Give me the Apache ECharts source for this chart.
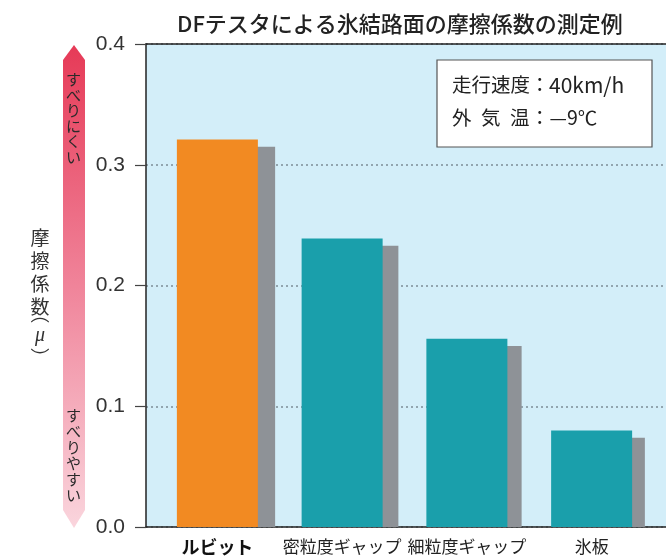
<!DOCTYPE html>
<html>
<head>
<meta charset="utf-8">
<script src="https://cdn.jsdelivr.net/npm/echarts@6/dist/echarts.min.js"></script>
<style>
html,body{margin:0;padding:0;background:#fff;}
#chart{width:666px;height:560px;}
</style>
</head>
<body>
<div id="chart"></div>
<script>
const categories = ['ルビット', '密粒度ギャップ', '細粒度ギャップ', '氷板'];
const frictionValues = [0.321, 0.239, 0.156, 0.080];
const shadowValues = [0.315, 0.233, 0.150, 0.074];
const yMin = 0, yMax = 0.4, yStep = 0.1;
const titleText = 'DFテスタによる氷結路面の摩擦係数の測定例';
const yName = ['摩', '擦', '係', '数', '︵', 'μ', '︶'];
const hardText = ['す', 'べ', 'り', 'に', 'く', 'い'];
const easyText = ['す', 'べ', 'り', 'や', 'す', 'い'];

const JP = '"Noto Sans CJK JP", "Noto Sans", sans-serif';
const chart = echarts.init(document.getElementById('chart'));

const frameLine = { show: true, onZero: false, lineStyle: { color: '#222', width: 1.5 } };

// vertical axis name, one glyph per element
const yNameY = [237.5, 261, 284, 306.5, 314, 336, 358];
const yNameGraphics = yName.map((ch, i) => ({
  type: 'text', z: 2, x: 40, y: yNameY[i],
  style: {
    text: ch,
    fontFamily: ch === 'μ' ? '"Liberation Serif", "DejaVu Serif", serif' : JP,
    fontStyle: ch === 'μ' ? 'italic' : 'normal',
    fontSize: ch === 'μ' ? 20 : 19,
    fill: '#333', align: 'center', verticalAlign: 'middle'
  }
}));

chart.setOption({
  animation: false,
  backgroundColor: '#ffffff',
  title: {
    text: titleText,
    left: 172, top: 8,
    textStyle: { fontFamily: JP, fontSize: 22, fontWeight: 500, color: '#222' }
  },
  grid: [
    { left: 146, top: 44, right: 0, bottom: 33, show: true, backgroundColor: '#d3eef9', borderWidth: 0 },
    { left: 155, top: 44, width: 499, bottom: 33 },
    { left: 173, top: 44, width: 499, bottom: 33 }
  ],
  xAxis: [
    { gridIndex: 0, type: 'value', min: 0, max: 1, position: 'bottom', axisLine: frameLine, axisTick: { show: false }, axisLabel: { show: false }, splitLine: { show: false } },
    { gridIndex: 0, type: 'value', min: 0, max: 1, position: 'top', axisLine: frameLine, axisTick: { show: false }, axisLabel: { show: false }, splitLine: { show: false } },
    { gridIndex: 1, type: 'category', data: categories, axisLine: { show: false }, axisTick: { show: false },
      axisLabel: {
        interval: 0, margin: 11, fontSize: 17, color: '#222', fontFamily: JP,
        formatter: (v, i) => i === 0 ? '{b|' + v + '}' : v,
        rich: { b: { fontWeight: 'bold', fontSize: 18, fontFamily: JP, color: '#111' } }
      } },
    { gridIndex: 2, type: 'category', data: categories, show: false }
  ],
  yAxis: [
    { gridIndex: 0, type: 'value', min: yMin, max: yMax, interval: yStep,
      axisLine: frameLine,
      axisTick: { show: true, length: 11, lineStyle: { color: '#444', width: 1.2 } },
      axisLabel: { margin: 21, fontSize: 21, color: '#333', fontFamily: '"Liberation Sans", Arial, sans-serif', formatter: v => v.toFixed(1) },
      splitLine: { show: true, lineStyle: { color: '#7d8d96', width: 1.5, type: [2, 3] } } },
    { gridIndex: 1, type: 'value', min: yMin, max: yMax, show: false, splitLine: { show: false } },
    { gridIndex: 2, type: 'value', min: yMin, max: yMax, show: false, splitLine: { show: false } }
  ],
  series: [
    { type: 'bar', name: 'shadow', xAxisIndex: 3, yAxisIndex: 2, data: shadowValues, barWidth: 81, z: 1, silent: true,
      itemStyle: { color: '#8e9297' } },
    { type: 'bar', name: '摩擦係数', xAxisIndex: 2, yAxisIndex: 1, data: frictionValues, barWidth: 81, z: 3,
      itemStyle: { color: p => p.dataIndex === 0 ? '#f28a22' : '#1a9fab' } }
  ],
  graphic: [
    { type: 'polygon', z: 1,
      shape: { points: [[74, 45], [85, 60], [85, 510], [74, 528], [63, 510], [63, 60]] },
      style: { fill: new echarts.graphic.LinearGradient(0, 0, 0, 1, [
        { offset: 0, color: '#e63a57' }, { offset: 0.5, color: '#f0849a' }, { offset: 1, color: '#fad5dd' }
      ]) } },
    { type: 'text', z: 2, left: 66, top: 72,
      style: { text: hardText.join('\n'), fontFamily: JP, fontSize: 15, lineHeight: 15.5, fill: '#2a2a2a', align: 'center' } },
    { type: 'text', z: 2, left: 66, top: 407,
      style: { text: easyText.join('\n'), fontFamily: JP, fontSize: 15, lineHeight: 16, fill: '#2a2a2a', align: 'center' } },
    ...yNameGraphics,
    { type: 'rect', z: 5, shape: { x: 437, y: 60, width: 215, height: 87 },
      style: { fill: '#ffffff', stroke: '#555', lineWidth: 1.2 } },
    { type: 'text', z: 6, x: 452, y: 85, style: { text: '走行速度', fontFamily: JP, fontSize: 19.5, fill: '#222', verticalAlign: 'middle' } },
    { type: 'text', z: 6, x: 530, y: 85, style: { text: '：', fontFamily: JP, fontSize: 19.5, fill: '#222', verticalAlign: 'middle' } },
    { type: 'text', z: 6, x: 549, y: 85, style: { text: '40km/h', fontFamily: JP, fontSize: 21, fill: '#222', verticalAlign: 'middle' } },
    { type: 'text', z: 6, x: 452, y: 118, style: { text: '外', fontFamily: JP, fontSize: 19.5, fill: '#222', verticalAlign: 'middle' } },
    { type: 'text', z: 6, x: 481, y: 118, style: { text: '気', fontFamily: JP, fontSize: 19.5, fill: '#222', verticalAlign: 'middle' } },
    { type: 'text', z: 6, x: 510, y: 118, style: { text: '温', fontFamily: JP, fontSize: 19.5, fill: '#222', verticalAlign: 'middle' } },
    { type: 'text', z: 6, x: 530, y: 118, style: { text: '：—9℃', fontFamily: JP, fontSize: 19.5, fill: '#222', verticalAlign: 'middle' } }
  ]
});
</script>
</body>
</html>
